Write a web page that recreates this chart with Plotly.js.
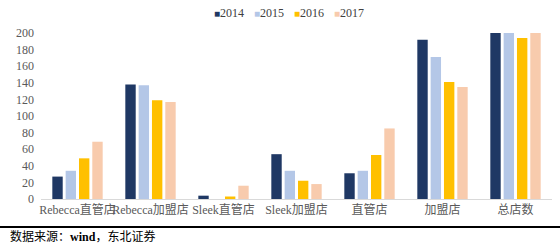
<!DOCTYPE html>
<html>
<head>
<meta charset="utf-8">
<script src="https://cdn.plot.ly/plotly-3.0.1.min.js"></script>
<style>html,body{margin:0;padding:0;background:#fff;}#chart{width:560px;height:247px;}</style>
</head>
<body>
<div id="chart"></div>
<script>
const categories = ["Rebecca直管店", "Rebecca加盟店", "Sleek直管店", "Sleek加盟店", "直管店", "加盟店", "总店数"];
const years = ["2014", "2015", "2016", "2017"];
const v2014 = [27, 138, 4, 54, 31, 192, 223];
const v2015 = [34, 137, 0, 34, 34, 171, 205];
const v2016 = [49, 119, 3, 22, 53, 141, 194];
const v2017 = [69, 117, 16, 18, 85, 135, 220];
const yTicks = [0, 20, 40, 60, 80, 100, 120, 140, 160, 180, 200];
const sourceText = "数据来源：<b>wind</b>，东北证券";

const colors = ["#1F3864", "#B4C7E7", "#FFC000", "#F8CBAD"];
const series = [v2014, v2015, v2016, v2017];
const FONT = "Liberation Serif, Noto Sans CJK SC, serif";

const traces = series.map((vals, i) => ({
  type: "bar",
  name: years[i],
  x: categories,
  y: vals,
  marker: {color: colors[i]},
  showlegend: false,
  hoverinfo: "x+y+name"
}));

const legendX = [0.335, 0.413, 0.491, 0.569];
const annotations = years.map((yr, i) => ({
  xref: "paper", yref: "paper",
  x: legendX[i], y: 1.0, yshift: 20,
  xanchor: "left", yanchor: "middle",
  showarrow: false,
  text: "<span style='color:" + colors[i] + ";font-size:10px'>■</span>" + yr,
  font: {family: FONT, size: 12, color: "#404040"}
}));
annotations.push({
  xref: "paper", yref: "paper",
  x: -0.065, y: 0, yshift: -37,
  xanchor: "left", yanchor: "middle",
  showarrow: false,
  text: sourceText,
  font: {family: FONT, size: 12, color: "#000"}
});

const layout = {
  width: 560, height: 247,
  margin: {l: 41, r: 8, t: 33, b: 48},
  paper_bgcolor: "#fff", plot_bgcolor: "#fff",
  barmode: "group",
  bargap: 0.27,
  bargroupgap: 0.22,
  showlegend: false,
  font: {family: FONT, size: 12, color: "#595959"},
  xaxis: {
    type: "category",
    showline: true, linecolor: "#D9D9D9", linewidth: 1,
    ticks: "", showgrid: false,
    tickangle: 0,
    automargin: false,
    tickfont: {family: FONT, size: 12, color: "#595959"},
    fixedrange: true
  },
  yaxis: {
    range: [0, 200],
    tickvals: yTicks,
    ticktext: yTicks.map(String),
    showgrid: false, zeroline: false, showline: false,
    ticks: "",
    ticklabelstandoff: 6,
    automargin: false,
    tickfont: {family: FONT, size: 12, color: "#595959"},
    fixedrange: true
  },
  shapes: [{
    type: "line", xref: "paper", yref: "paper",
    x0: -0.09, x1: 1.02, y0: -0.169, y1: -0.169,
    line: {color: "#000", width: 2}
  }],
  annotations: annotations
};

Plotly.newPlot("chart", traces, layout, {displayModeBar: false, staticPlot: true});
</script>
</body>
</html>
